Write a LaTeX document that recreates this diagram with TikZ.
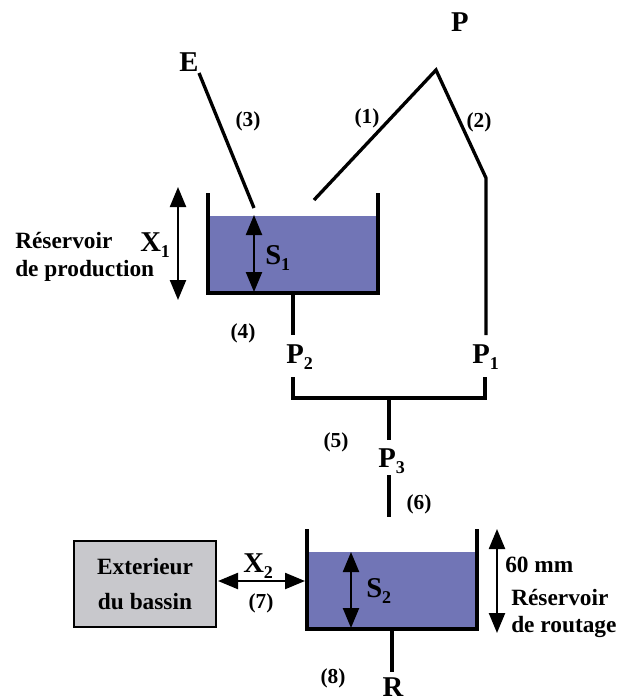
\documentclass[tikz,border=0pt]{standalone}
\usepackage{fontspec}
\setmainfont{Liberation Serif}
\usetikzlibrary{arrows.meta}
\definecolor{water}{RGB}{113,117,182}
\definecolor{boxgray}{RGB}{200,200,204}
\newcommand{\subd}[1]{\raisebox{-4.5pt}{\fontsize{13.5}{14}\selectfont #1}}
\tikzset{
 px/.style={x=0.75pt,y=-0.75pt},
 ln/.style={line width=2.5pt,black},
 dbl/.style={line width=1.7pt,{Triangle[length=15pt,width=12pt]}-{Triangle[length=15pt,width=12pt]}},
 lab/.style={font=\bfseries\fontsize{16}{18}\selectfont,inner sep=0pt},
 txt/.style={font=\bfseries\fontsize{17.5}{20}\selectfont,inner sep=0pt},
 big/.style={font=\bfseries\fontsize{21.5}{24}\selectfont,inner sep=0pt},
 bigb/.style={big,anchor=base west},
}
\begin{document}
\begin{tikzpicture}[px]
\useasboundingbox (0,0) rectangle (617,700);
\fill[white] (0,0) rectangle (617,700);
\fill[water] (208,216) rectangle (378,293);
\fill[water] (307,552) rectangle (477,629);
\draw[ln] (208,193) -- (208,293) -- (378,293) -- (378,193);
\draw[ln] (307,529) -- (307,629) -- (477,629) -- (477,529);
\node[big] (P) at (460,22) {P};
\node[big] (E) at (189,62) {E};
\coordinate (Etop) at (199,73); \coordinate (Ebot) at (254,208);
\draw[ln] (Etop) -- (Ebot);
\coordinate (apex) at (436,70); \coordinate (l1) at (314,200); \coordinate (r1) at (486,178);
\node[bigb] (P1) at (472,363) {P\subd{1}};
\node[bigb] (P2) at (286,363) {P\subd{2}};
\node[bigb] (P3) at (378,467) {P\subd{3}};
\node[big,anchor=base] (R) at (393,696.5) {R};
\coordinate (p1t) at (486,335); \coordinate (p1b) at (485,377);
\coordinate (p2t) at (293,335); \coordinate (p2b) at (293,377);
\coordinate (top2) at (293,293);
\draw[ln] (l1) -- (apex) -- (r1) -- (p1t);
\draw[ln] (top2) -- (p2t);
\coordinate (jl) at (293,398); \coordinate (jr) at (485,398); \coordinate (jm) at (389,398);
\coordinate (p3t) at (389,440); \coordinate (p3b) at (389,475); \coordinate (p3e) at (389,517);
\coordinate (bot2) at (392,629); \coordinate (re) at (392,672);
\draw[ln] (p2b) -- (jl) -- (jr) -- (p1b);
\draw[ln] (jm) -- (p3t);
\draw[ln] (p3b) -- (p3e);
\draw[ln] (bot2) -- (re);
\node[lab] at (248,121) {(3)};
\node[lab] at (367,118) {(1)};
\node[lab] at (479,122) {(2)};
\node[lab] at (243,333) {(4)};
\node[lab] at (336,442) {(5)};
\node[lab] at (419,504) {(6)};
\node[lab] at (261,603) {(7)};
\node[lab] at (333,678) {(8)};
\node[bigb] at (140,251) {X\subd{1}};
\node[bigb] at (243,572) {X\subd{2}};
\node[bigb] at (265,264) {S\subd{1}};
\node[bigb] at (366,597) {S\subd{2}};
\draw[dbl] (178,187) -- (178,300);
\draw[dbl] (254,215) -- (254,292);
\draw[dbl] (351,552) -- (351,628);
\draw[dbl] (218,581) -- (305,581);
\draw[dbl] (497,529) -- (497,633);
\node[txt,anchor=west] at (15,241) {Réservoir};
\node[txt,anchor=west] at (15,271) {de production};
\node[txt,anchor=west] at (505,565) {60 mm};
\node[txt,anchor=west] at (511,597) {Réservoir};
\node[txt,anchor=west] at (511,627) {de routage};
\node[draw,line width=1.5pt,fill=boxgray,minimum width=107pt,minimum height=65pt,align=center,inner sep=0pt,txt] (ext) at (145,584) {Exterieur\\[6pt]du bassin};
\end{tikzpicture}
\end{document}
